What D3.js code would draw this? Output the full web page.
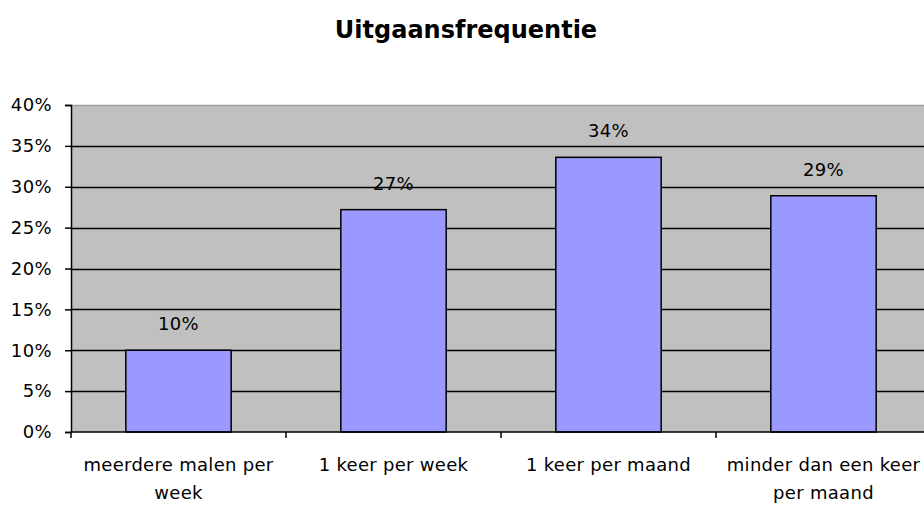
<!DOCTYPE html>
<html>
<head>
<meta charset="utf-8">
<script src="https://cdn.jsdelivr.net/npm/d3@7"></script>
<style>
  body { margin: 0; background: #fff; }
  svg text { font-family: "DejaVu Sans", sans-serif; fill: #000; }
</style>
</head>
<body>
<div id="chart"></div>
<script>

// Data.
var categories = ['meerdere malen per week', '1 keer per week', '1 keer per maand', 'minder dan een keer per maand'];
var labelLines = [['meerdere malen per', 'week'], ['1 keer per week'], ['1 keer per maand'], ['minder dan een keer', 'per maand']];
var values = [0.10, 0.272, 0.336, 0.289];
var yTicks = [0, 0.05, 0.10, 0.15, 0.20, 0.25, 0.30, 0.35, 0.40];

var width = 924, height = 506;
var plot = { left: 71, top: 105, width: 860, height: 327 };
var fontSize = '18px';

var svg = d3.select('#chart').append('svg')
  .attr('width', width)
  .attr('height', height);

// Scales.
var x = d3.scaleBand().domain(categories).range([plot.left, plot.left + plot.width])
  .paddingInner(0.51).paddingOuter(0.255);
var xCat = d3.scaleBand().domain(categories).range([plot.left, plot.left + plot.width]);
var y = d3.scaleLinear().domain([0, 0.4]).range([plot.top + plot.height, plot.top]);
var pct = d3.format('.0%');

// Title.
svg.append('text')
  .attr('x', 466).attr('y', 38)
  .attr('text-anchor', 'middle')
  .style('font-size', '24px').style('font-weight', 'bold')
  .text('Uitgaansfrequentie');

// Plot background.
svg.append('rect')
  .attr('x', plot.left).attr('y', plot.top)
  .attr('width', plot.width).attr('height', plot.height)
  .attr('fill', '#c0c0c0');

// Grid lines.
svg.append('g').selectAll('line')
  .data(yTicks.filter(function(d) { return d > 0; }))
  .join('line')
  .attr('x1', plot.left).attr('x2', plot.left + plot.width)
  .attr('y1', function(d) { return Math.round(y(d)) + 0.5; })
  .attr('y2', function(d) { return Math.round(y(d)) + 0.5; })
  .attr('stroke', function(d) { return d === 0.4 ? '#a0a0a0' : '#000'; })
  .attr('stroke-width', 1.5);

// Bars.
svg.append('g').selectAll('rect')
  .data(values)
  .join('rect')
  .attr('x', function(d, i) { return x(categories[i]); })
  .attr('y', function(d) { return y(d); })
  .attr('width', x.bandwidth())
  .attr('height', function(d) { return y(0) - y(d); })
  .attr('fill', '#9999ff')
  .attr('stroke', '#000')
  .attr('stroke-width', 1.5);

// Value labels.
svg.append('g').selectAll('text')
  .data(values)
  .join('text')
  .attr('x', function(d, i) { return x(categories[i]) + x.bandwidth() / 2; })
  .attr('y', function(d) { return y(d) - 20; })
  .attr('text-anchor', 'middle')
  .style('font-size', fontSize)
  .style('letter-spacing', '0.4px')
  .text(function(d) { return pct(d); });

// Y axis.
var yAxis = svg.append('g')
  .attr('transform', 'translate(' + plot.left + ',0)')
  .call(d3.axisLeft(y).tickValues(yTicks).tickFormat(pct).tickSize(6).tickPadding(13));
yAxis.select('.domain').attr('stroke', '#000').attr('stroke-width', 1.5);
yAxis.selectAll('.tick line').attr('stroke-width', 1.5);
yAxis.selectAll('.tick text')
  .style('font-size', fontSize)
  .style('letter-spacing', '0.4px')
  .style('font-family', '"DejaVu Sans", sans-serif');

// X axis.
var xAxisG = svg.append('g');
xAxisG.append('line')
  .attr('x1', plot.left).attr('x2', plot.left + plot.width)
  .attr('y1', y(0)).attr('y2', y(0))
  .attr('stroke', '#000').attr('stroke-width', 1.5);
xAxisG.selectAll('line.tick')
  .data(categories.concat(['end']))
  .join('line')
  .attr('class', 'tick')
  .attr('x1', function(d, i) { return plot.left + i * xCat.bandwidth(); })
  .attr('x2', function(d, i) { return plot.left + i * xCat.bandwidth(); })
  .attr('y1', y(0)).attr('y2', y(0) + 6)
  .attr('stroke', '#000').attr('stroke-width', 1.5);

// Category labels.
var labels = svg.append('g').selectAll('text')
  .data(categories)
  .join('text')
  .attr('text-anchor', 'middle')
  .style('font-size', fontSize)
  .style('letter-spacing', '0.3px');
labels.each(function(d, i) {
  var cx = xCat(d) + xCat.bandwidth() / 2;
  d3.select(this).selectAll('tspan')
    .data(labelLines[i])
    .join('tspan')
    .attr('x', cx)
    .attr('y', function(t, j) { return 471 + j * 28; })
    .text(function(t) { return t; });
});

</script>
</body>
</html>
